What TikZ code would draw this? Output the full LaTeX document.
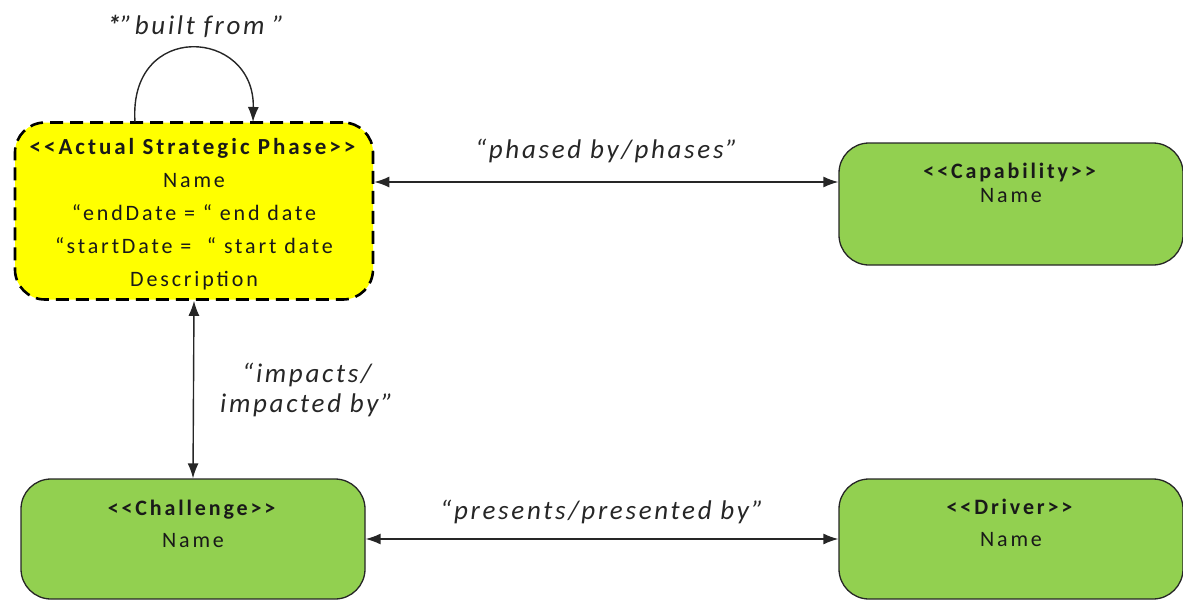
\documentclass[tikz,border=0pt]{standalone}
\usepackage{fontspec}
\setmainfont{Carlito}[Ligatures=TeXOff]
\newfontfamily\boxfont{Carlito}[Ligatures=TeXOff, LetterSpace=13]
\newfontfamily\labelfont{Carlito}[Ligatures=TeXOff, LetterSpace=10]
\usetikzlibrary{arrows.meta}
\definecolor{phaseyellow}{HTML}{FFFF00}
\definecolor{boxgreen}{HTML}{92D050}
\definecolor{edgegray}{HTML}{262626}
\tikzset{
  phasebox/.style={draw=black, fill=phaseyellow, line width=2.6pt,
    dash pattern=on 13pt off 7pt, rounded corners=30pt, inner sep=0pt},
  greenbox/.style={draw=edgegray, fill=boxgreen, line width=1.3pt,
    rounded corners=30pt, inner sep=0pt, minimum width=344pt, minimum height=120pt},
  boxtext/.style={align=center, font=\boxfont\fontsize{22}{32}\selectfont, text=black!90, inner sep=0pt},
  rel/.style={draw=black!85, line width=1.4pt, {Latex[length=15pt,width=11pt]}-{Latex[length=15pt,width=11pt]}},
  relone/.style={draw=black!85, line width=1.4pt, -{Latex[length=15pt,width=11pt]}},
  rellabel/.style={font=\labelfont\fontsize{27}{30}\selectfont\itshape, text=black!85, align=center, inner sep=0pt}
}
\begin{document}
\begin{tikzpicture}[x=1pt,y=-1pt]
\useasboundingbox (0,0) rectangle (1183,600);

% element boxes
\node[phasebox, minimum width=358pt, minimum height=177pt] (phase) at (194,211) {};
\node[greenbox, minimum height=122pt] (cap) at (1011,204) {};
\node[greenbox] (chal) at (193,539) {};
\node[greenbox] (drv) at (1011,539) {};

% box contents
\node[boxtext, anchor=north, font=\boxfont\fontsize{22}{33}\selectfont] (phaseT) at ([yshift=-17pt]phase.north)
  {{\fontsize{23}{33}\selectfont\textbf{<<Actual Strategic Phase>>}}\\ Name\\ “endDate = “ end date\\ “startDate =~ “ start date\\ Description};
\node[boxtext, anchor=north, font=\boxfont\fontsize{22}{24}\selectfont] (capT) at ([yshift=-21pt]cap.north)
  {\textbf{<<Capability>>}\\ Name};
\node[boxtext, anchor=north] (chalT) at ([yshift=-22pt]chal.north)
  {\textbf{<<Challenge>>}\\ Name};
\node[boxtext, anchor=north] (drvT) at ([yshift=-21pt]drv.north)
  {\textbf{<<Driver>>}\\ Name};

% relationships
\draw[rel] (phase.east |- 0,182) -- (cap.west |- 0,182)
  node[midway, above=18pt, rellabel] (phL) {“phased by/phases”};
\draw[rel] (phase.south) -- (chal.north)
  node[midway, right=26pt, rellabel] (imL) {“impacts/\\ impacted by”};
\draw[rel] (chal.east) -- (drv.west)
  node[midway, above=14pt, rellabel] (prL) {“presents/presented by”};

% self relationship
\coordinate (loopA) at (135,122);
\coordinate (loopB) at (253,122);
\draw[relone] (loopA) .. controls (128,20) and (255,28) .. (loopB);
\node[rellabel] (bfL) at (196,26) {\textbf{*}”built from ”};
\end{tikzpicture}
\end{document}
